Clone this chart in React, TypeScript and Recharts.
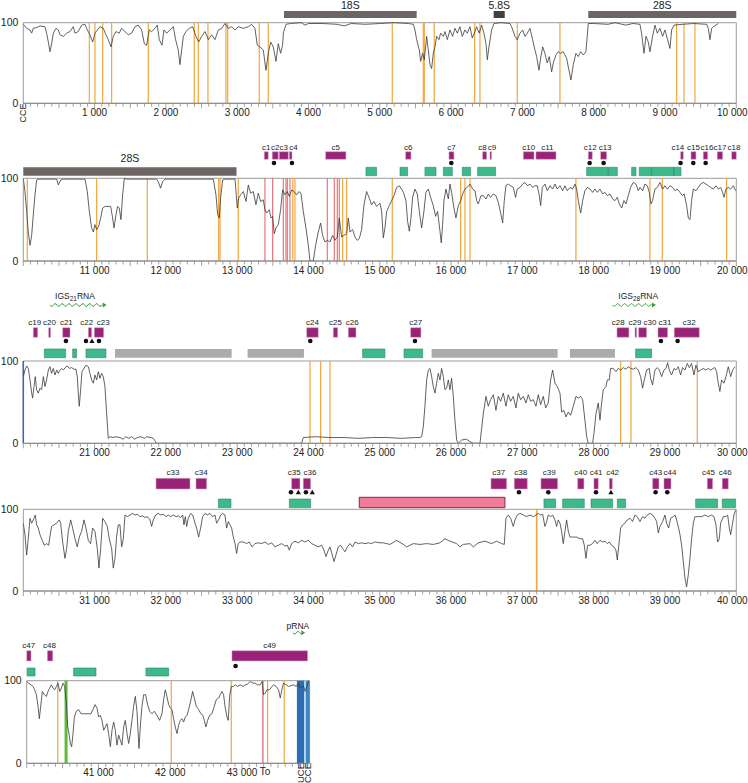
import React from 'react';
import {
    ComposedChart, Line, Scatter, XAxis, YAxis, ReferenceLine, ReferenceArea, ReferenceDot
} from 'recharts';

type Pt = [number, number];
type Feat = [string, number, number, number?];
type Mark = [number, 'd' | 't'];

// sequence conservation (%) along the unit, [position, value]
const cons1: Pt[] = [[0,98],[47,93],[94,91],[117,87],[140,93],[187,94],[234,96],[304,95],[327,87],[351,76],[374,64],[397,74],[421,87],[458,93],[491,91],[514,85],[561,83],[608,87],[655,89],[701,95],[725,87],[771,89],[818,97],[865,98],[898,91],[935,85],[972,76],[1005,87],[1038,91],[1075,95],[1122,93],[1159,85],[1192,79],[1230,70],[1262,83],[1300,89],[1346,87],[1379,93],[1426,89],[1473,85],[1519,87],[1566,95],[1613,97],[1660,91],[1697,74],[1730,72],[1767,91],[1800,89],[1847,93],[1879,97],[1907,79],[1945,72],[1973,91],[2010,87],[2057,91],[2104,95],[2136,79],[2174,66],[2197,48],[2221,66],[2244,83],[2281,89],[2328,93],[2375,95],[2422,83],[2459,76],[2501,83],[2548,89],[2595,79],[2641,85],[2688,79],[2735,91],[2782,93],[2828,99],[2875,93],[2922,95],[2969,91],[3015,95],[3086,93],[3156,95],[3202,98],[3249,93],[3282,72],[3319,70],[3366,66],[3403,41],[3436,62],[3469,76],[3506,70],[3544,52],[3576,74],[3609,62],[3637,72],[3647,87],[3684,98],[3750,99],[3900,100],[3950,97],[4000,99],[4200,99],[4400,98],[4500,96],[4600,99],[4800,98],[5000,99],[5200,100],[5400,99],[5470,98],[5493,91],[5517,79],[5554,66],[5573,52],[5601,62],[5624,54],[5657,83],[5680,66],[5704,48],[5727,43],[5750,62],[5774,70],[5797,83],[5830,79],[5853,87],[5891,83],[5914,89],[5947,79],[5984,91],[6021,83],[6054,93],[6087,87],[6124,95],[6157,83],[6194,91],[6227,87],[6265,95],[6297,81],[6335,89],[6358,95],[6395,87],[6428,97],[6461,87],[6489,74],[6508,54],[6531,70],[6568,91],[6601,99],[6700,100],[6826,99],[6849,95],[6896,83],[6928,79],[6966,87],[7003,91],[7036,83],[7069,87],[7106,93],[7143,79],[7176,66],[7200,58],[7232,41],[7256,56],[7284,70],[7316,62],[7349,50],[7377,58],[7410,39],[7433,50],[7471,60],[7503,64],[7536,62],[7573,64],[7620,56],[7653,41],[7681,29],[7714,48],[7751,62],[7784,58],[7817,64],[7854,60],[7891,64],[7924,99],[8000,99],[8200,98],[8300,100],[8450,97],[8550,99],[8649,98],[8672,87],[8705,62],[8733,83],[8766,76],[8789,64],[8826,83],[8859,97],[8892,87],[8929,93],[8967,83],[8999,91],[9037,79],[9070,68],[9093,91],[9126,97],[9250,98],[9400,99],[9584,98],[9607,93],[9631,79],[9654,93],[9677,95],[9747,99]];

const cons2: Pt[] = [[10000,100],[10023,84],[10047,60],[10070,35],[10094,19],[10117,31],[10140,56],[10164,80],[10187,98],[10210,99],[10468,99],[10491,92],[10524,98],[10561,99],[10865,99],[10898,84],[10926,60],[10958,40],[10982,35],[11005,44],[11029,38],[11057,42],[11085,52],[11113,64],[11145,66],[11192,66],[11225,66],[11253,52],[11272,40],[11300,56],[11323,66],[11346,64],[11370,50],[11393,80],[11417,100],[11449,99],[11870,99],[11893,96],[11926,88],[11954,96],[11987,99],[12665,99],[12702,80],[12726,56],[12749,52],[12767,76],[12796,98],[12828,99],[12969,99],[12983,84],[13001,64],[13020,76],[13048,80],[13086,84],[13123,72],[13156,92],[13188,82],[13226,84],[13263,68],[13296,82],[13329,72],[13366,74],[13389,62],[13413,58],[13450,62],[13474,52],[13497,54],[13520,33],[13544,40],[13576,44],[13609,62],[13637,86],[13670,80],[13703,84],[13731,78],[13763,86],[13796,84],[13834,80],[13866,84],[13894,82],[13927,60],[13964,40],[13997,19],[14021,0],[14067,0],[14100,19],[14137,35],[14170,46],[14198,31],[14231,23],[14264,25],[14301,23],[14338,31],[14371,25],[14404,29],[14432,52],[14465,29],[14497,31],[14535,33],[14558,52],[14582,35],[14619,38],[14652,29],[14684,25],[14712,27],[14745,38],[14778,68],[14815,84],[14853,76],[14885,68],[14918,72],[14956,66],[15002,70],[15026,60],[15049,28],[15072,40],[15096,60],[15133,67],[15166,73],[15199,79],[15236,89],[15273,91],[15306,87],[15330,83],[15367,73],[15390,48],[15414,36],[15437,52],[15460,77],[15493,87],[15526,81],[15554,60],[15587,40],[15619,60],[15647,83],[15680,87],[15713,77],[15750,67],[15783,54],[15811,60],[15844,36],[15862,22],[15881,44],[15900,73],[15928,87],[15961,75],[15984,93],[16007,83],[16040,64],[16068,52],[16101,67],[16134,73],[16162,81],[16194,87],[16227,89],[16265,93],[16302,87],[16335,85],[16358,73],[16381,69],[16419,79],[16452,79],[16489,75],[16522,81],[16554,77],[16592,81],[16629,79],[16662,71],[16695,58],[16723,46],[16746,73],[16769,91],[16802,93],[16835,91],[16872,89],[16905,77],[16928,87],[16966,89],[17003,93],[17036,95],[17069,91],[17106,93],[17143,89],[17176,91],[17209,91],[17237,79],[17256,67],[17279,89],[17316,93],[17349,85],[17387,91],[17424,87],[17457,93],[17489,87],[17527,91],[17564,85],[17597,91],[17630,85],[17667,89],[17704,87],[17737,93],[17761,87],[17784,73],[17817,58],[17845,73],[17877,85],[17910,89],[17948,87],[17985,83],[18018,87],[18050,83],[18088,87],[18125,81],[18158,83],[18191,79],[18228,81],[18265,75],[18298,73],[18331,77],[18359,69],[18392,64],[18424,73],[18452,69],[18485,79],[18518,89],[18555,95],[18593,93],[18625,85],[18649,89],[18686,85],[18719,93],[18752,91],[18780,83],[18803,69],[18826,73],[18859,87],[18892,89],[18929,95],[18967,87],[18999,91],[19032,87],[19070,91],[19107,89],[19140,85],[19172,87],[19210,83],[19242,79],[19270,81],[19303,67],[19327,52],[19350,50],[19373,73],[19397,87],[19434,85],[19467,89],[19500,93],[19537,95],[19574,93],[19607,91],[19640,89],[19677,87],[19715,91],[19747,87],[19780,89],[19808,83],[19827,77],[19855,87],[19888,89],[19921,87],[19958,91],[19990,85]];

const cons3: Pt[] = [[20000,81],[20023,89],[20047,94],[20070,91],[20094,77],[20117,61],[20131,55],[20150,69],[20168,81],[20187,65],[20210,61],[20234,67],[20257,65],[20281,81],[20304,69],[20327,77],[20351,89],[20374,93],[20397,85],[20421,91],[20444,83],[20468,89],[20491,85],[20514,89],[20538,91],[20561,89],[20589,92],[20617,94],[20645,91],[20678,92],[20711,90],[20739,90],[20757,81],[20771,61],[20785,45],[20804,65],[20823,87],[20851,91],[20879,95],[20912,93],[20935,85],[20958,77],[20982,73],[21005,83],[21029,77],[21052,87],[21075,79],[21099,85],[21122,81],[21145,69],[21169,36],[21192,6],[21216,8],[21260,7],[21300,8],[21356,7],[21400,5],[21440,8],[21480,6],[21520,8],[21560,5],[21600,7],[21650,8],[21700,6],[21730,8],[21790,7],[21823,6],[21847,3],[21870,0],[23903,0],[23927,7],[24100,8],[24300,7],[24500,7],[24700,6],[24900,7],[25100,7],[25300,6],[25500,7],[25563,7],[25587,8],[25610,20],[25633,45],[25657,77],[25680,89],[25704,91],[25727,81],[25750,69],[25774,61],[25797,73],[25820,85],[25844,77],[25867,91],[25891,81],[25914,65],[25937,67],[25961,77],[25984,65],[26007,79],[26031,57],[26054,28],[26078,4],[26101,0],[26148,4],[26218,5],[26265,2],[26311,0],[26405,0],[26452,36],[26489,57],[26522,45],[26554,53],[26592,59],[26629,40],[26662,57],[26695,51],[26732,61],[26769,45],[26802,59],[26835,51],[26872,57],[26910,43],[26942,61],[26975,53],[27013,57],[27050,49],[27083,59],[27115,51],[27153,53],[27190,45],[27223,59],[27256,47],[27293,57],[27326,43],[27363,49],[27396,77],[27424,89],[27457,73],[27489,69],[27527,61],[27550,38],[27583,40],[27611,32],[27644,38],[27676,34],[27714,45],[27751,57],[27784,55],[27817,57],[27845,53],[27877,28],[27901,8],[27924,0],[27985,0],[28004,12],[28032,36],[28064,49],[28088,28],[28111,49],[28134,65],[28172,69],[28191,77],[28219,77],[28237,91],[28275,91],[28312,87],[28345,91],[28378,89],[28415,92],[28452,90],[28485,93],[28518,91],[28555,90],[28593,92],[28625,89],[28658,81],[28686,67],[28710,77],[28742,89],[28780,91],[28798,79],[28826,71],[28859,89],[28892,92],[28920,89],[28953,81],[28985,89],[29013,91],[29037,98],[29060,89],[29093,83],[29126,91],[29154,89],[29186,93],[29219,83],[29247,92],[29280,89],[29313,97],[29341,92],[29373,97],[29406,83],[29434,95],[29467,87],[29500,89],[29537,91],[29574,89],[29607,91],[29640,89],[29677,91],[29700,92],[29724,87],[29747,73],[29770,63],[29794,77],[29827,73],[29855,81],[29888,93],[29921,81],[29949,89],[29981,93]];

const cons4: Pt[] = [[30000,83],[30023,69],[30047,44],[30070,64],[30094,89],[30117,83],[30140,87],[30168,93],[30187,81],[30210,77],[30234,69],[30266,62],[30295,56],[30327,58],[30355,56],[30374,67],[30397,79],[30430,81],[30468,83],[30505,87],[30524,83],[30552,60],[30584,40],[30608,52],[30631,73],[30664,87],[30692,77],[30725,64],[30757,54],[30785,66],[30818,73],[30851,87],[30879,77],[30912,62],[30944,58],[30972,77],[31005,73],[31038,52],[31061,28],[31085,52],[31113,89],[31145,85],[31178,79],[31206,64],[31239,52],[31262,28],[31286,40],[31309,67],[31332,81],[31356,81],[31379,54],[31403,64],[31426,93],[31459,91],[31496,93],[31533,95],[31566,93],[31599,94],[31636,91],[31674,92],[31706,90],[31739,91],[31777,87],[31800,79],[31823,87],[31856,93],[31893,95],[31926,93],[31963,94],[32001,91],[32034,93],[32066,91],[32104,93],[32141,91],[32174,92],[32207,90],[32235,93],[32253,81],[32272,91],[32291,79],[32314,89],[32347,95],[32375,93],[32408,83],[32431,77],[32459,66],[32487,77],[32515,91],[32548,95],[32581,93],[32618,95],[32655,91],[32688,93],[32712,83],[32740,87],[32768,93],[32796,95],[32828,93],[32852,77],[32876,85],[32899,81],[32922,77],[32946,66],[32969,58],[32992,46],[33015,58],[33039,60],[33086,60],[33132,58],[33170,60],[33207,54],[33249,58],[33296,59],[33343,58],[33389,60],[33436,57],[33483,59],[33530,54],[33576,56],[33623,58],[33670,55],[33703,56],[33731,50],[33763,58],[33810,61],[33857,59],[33904,62],[33950,60],[33997,62],[34044,58],[34091,56],[34137,54],[34184,56],[34217,50],[34245,42],[34278,50],[34301,54],[34324,47],[34357,36],[34385,44],[34418,54],[34451,56],[34479,52],[34512,48],[34544,54],[34582,58],[34619,54],[34652,60],[34698,58],[34745,59],[34792,58],[34839,59],[34885,58],[34932,60],[35002,59],[35049,59],[35143,57],[35236,62],[35330,57],[35376,54],[35470,58],[35563,57],[35657,58],[35750,57],[35844,59],[35914,64],[35984,61],[36078,58],[36124,54],[36171,57],[36265,58],[36311,54],[36381,59],[36475,61],[36568,58],[36639,61],[36709,58],[36746,57],[36769,89],[36802,93],[36835,89],[36872,79],[36896,87],[36928,93],[36966,95],[37013,93],[37059,91],[37106,93],[37153,91],[37190,93],[37223,95],[37256,93],[37284,94],[37316,79],[37340,85],[37363,93],[37396,91],[37424,93],[37457,87],[37480,79],[37503,87],[37527,83],[37550,73],[37573,58],[37597,73],[37620,87],[37644,73],[37667,66],[37714,66],[37761,66],[37807,64],[37845,64],[37868,56],[37891,40],[37915,56],[37948,56],[37985,58],[38018,62],[38050,58],[38088,62],[38125,60],[38158,61],[38191,58],[38219,60],[38251,56],[38284,54],[38312,50],[38331,38],[38350,54],[38378,77],[38406,81],[38438,83],[38471,87],[38509,89],[38546,85],[38579,93],[38611,91],[38649,85],[38686,91],[38719,89],[38752,93],[38789,95],[38826,93],[38859,89],[38883,85],[38906,71],[38929,79],[38967,85],[38999,93],[39023,83],[39051,77],[39079,89],[39116,91],[39140,93],[39163,87],[39186,79],[39210,69],[39233,56],[39257,36],[39280,16],[39303,5],[39327,20],[39350,40],[39373,64],[39397,83],[39420,91],[39467,91],[39514,91],[39560,93],[39607,91],[39654,93],[39687,91],[39715,81],[39738,60],[39762,64],[39780,83],[39818,91],[39855,91],[39879,93],[39902,77],[39921,69],[39944,81],[39967,93],[39990,99]];

const cons5: Pt[] = [[40000,99],[40028,97],[40060,95],[40088,93],[40111,89],[40135,83],[40158,69],[40176,54],[40195,69],[40218,87],[40246,83],[40274,81],[40297,87],[40320,91],[40343,95],[40367,91],[40390,89],[40413,93],[40436,97],[40459,87],[40483,91],[40506,97],[40529,93],[40552,73],[40571,44],[40589,36],[40608,24],[40626,20],[40645,36],[40664,56],[40691,63],[40724,65],[40756,60],[40793,60],[40831,60],[40863,60],[40896,60],[40923,65],[40951,71],[40979,67],[41002,56],[41025,58],[41049,52],[41072,40],[41095,44],[41118,48],[41141,36],[41165,20],[41188,40],[41211,50],[41234,40],[41257,22],[41281,34],[41304,28],[41327,22],[41350,44],[41373,52],[41397,36],[41420,24],[41443,36],[41466,52],[41489,69],[41513,81],[41536,63],[41550,40],[41564,18],[41582,44],[41605,69],[41629,83],[41656,83],[41684,71],[41712,63],[41745,60],[41777,63],[41814,58],[41851,52],[41884,60],[41907,77],[41930,89],[41953,81],[41977,71],[42000,67],[42023,65],[42046,54],[42069,44],[42093,36],[42116,46],[42139,52],[42162,54],[42185,50],[42209,56],[42232,58],[42255,65],[42288,77],[42311,87],[42334,79],[42362,69],[42394,65],[42427,60],[42455,58],[42473,52],[42496,44],[42520,52],[42547,58],[42580,60],[42612,69],[42640,77],[42673,79],[42696,83],[42719,87],[42742,83],[42765,67],[42789,56],[42807,52],[42826,81],[42849,93],[42881,93],[42905,95],[42937,93],[42974,95],[43011,93],[43044,95],[43076,96],[43113,99],[43151,97],[43183,97],[43216,95],[43253,95],[43280,99],[43299,83],[43322,85],[43345,89],[43383,89],[43415,93],[43438,95],[43475,93],[43508,89],[43531,79],[43554,89],[43577,97],[43615,95],[43647,93],[43680,94],[43717,95],[43754,93],[43786,97],[43809,91],[43833,93],[43856,93],[43879,87],[43902,93],[43925,99]];

// site positions (vertical lines)
const orange1 = [926, 1005, 1113, 1239, 1753, 2398, 2454, 2590, 2842, 2866, 3310, 3436, 5175, 5610, 5624, 5764, 6330, 6405, 6928, 7527, 9163, 9266, 9420];
const orange2 = [10056, 11029, 11739, 12740, 12759, 13015, 13780, 13810, 14479, 14535, 15175, 16134, 16194, 16265, 17751, 18789, 18962, 19864];
const red2 = [13389, 13497, 13647, 13684, 13703, 13740, 14264, 14362, 14404, 14432];
const orange3 = [24021, 24170, 24301, 28378, 28523, 29453];
const orange4 = [37200];
const orange5 = [40432, 42014, 42849, 43355, 43587];
const red5 = [43290];
const green5 = [40548];

// rRNA genes
const rrna1: Feat[] = [['18S', 3656, 5517], ['5.8S', 6597, 6752], ['28S', 7924, 10000]];
const rrna2: Feat[] = [['28S', 10000, 12990]];

// conserved elements [name, start, end, label position]
const purple2: Feat[] = [['c1', 13380, 13436], ['c2', 13492, 13576], ['c3', 13590, 13717], ['c4', 13731, 13768, 13790], ['c5', 14240, 14525], ['c6', 15362, 15437], ['c7', 15970, 16040], ['c8', 16442, 16498, 16440], ['c9', 16545, 16568, 16575], ['c10', 17013, 17163], ['c11', 17190, 17471, 17350], ['c12', 17924, 17980], ['c13', 18097, 18181, 18160], ['c14', 19219, 19257, 19180], ['c15', 19364, 19434], ['c16', 19537, 19598, 19590], ['c17', 19733, 19808], ['c18', 19935, 20000, 19967]];
const purple3: Feat[] = [['c19', 20140, 20201, 20160], ['c20', 20355, 20383, 20368], ['c21', 20552, 20655], ['c22', 20912, 20958, 20890], ['c23', 20996, 21127, 21120], ['c24', 23974, 24137], ['c25', 24348, 24409], ['c26', 24558, 24666], ['c27', 25432, 25577], ['c28', 28326, 28494, 28345], ['c29', 28579, 28602, 28580], ['c30', 28630, 28742, 28790], ['c31', 28901, 29037, 29000], ['c32', 29130, 29481, 29340]];
const purple4: Feat[] = [['c33', 31861, 32338], ['c34', 32422, 32571], ['c35', 33763, 33880, 33800], ['c36', 33927, 34030, 34020], ['c37', 36559, 36779], ['c38', 36886, 37069], ['c39', 37260, 37494], ['c40', 37775, 37863], ['c41', 38003, 38064], ['c42', 38219, 38261, 38265], ['c43', 38826, 38915], ['c44', 38985, 39084, 39070], ['c45', 39593, 39668, 39610], ['c46', 39803, 39888]];
const purple5: Feat[] = [['c47', 40000, 40060, 40028], ['c48', 40288, 40362, 40316], ['c49', 42858, 43912, 43383]];

// other conserved blocks
const green2: Pt[] = [[14806, 14955], [15283, 15390], [15633, 15788], [15891, 16017], [16157, 16274], [16372, 16624], [17901, 18205], [18205, 18331], [18532, 18593], [18639, 18812], [18812, 19126], [19126, 19224]];
const green3: Pt[] = [[20295, 20594], [20692, 20748], [20879, 21159], [24759, 25072], [25339, 25601], [28588, 28812]];
const gray3: Pt[] = [[21286, 22922], [23146, 23936], [25727, 27494], [27667, 28298]];
const green4: Pt[] = [[32735, 32913], [33731, 34030], [37302, 37466], [37564, 37868], [37962, 38265], [38331, 38448], [39430, 39738], [39803, 39990]];
const pink4: Pt[] = [[34712, 36755]];
const green5b: Pt[] = [[40005, 40116], [40654, 40965], [41661, 41977]];

// markers under elements: d = dot, t = triangle
const marks2: Mark[] = [[13516, 'd'], [13768, 'd'], [16003, 'd'], [17943, 'd'], [18139, 'd'], [19219, 'd'], [19397, 'd'], [19570, 'd']];
const marks3: Mark[] = [[20598, 'd'], [20879, 'd'], [20963, 't'], [21061, 'd'], [24025, 'd'], [25493, 'd'], [28943, 'd'], [29177, 'd']];
const marks4: Mark[] = [[33754, 'd'], [33857, 't'], [33964, 'd'], [34053, 't'], [36952, 'd'], [37363, 'd'], [38032, 'd'], [38242, 't'], [38868, 'd'], [39032, 'd']];
const marks5: Mark[] = [[42909, 'd']];

// transcripts [name, start, end, label position]
const rna3: Feat[] = [['21', 20374, 21169, 20725], ['28', 28265, 28873, 28625]];
const rna5: Feat[] = [['pRNA', 43707, 43879, 43777]];

const FONT = '"Liberation Sans", Arial, Helvetica, sans-serif';
const ORANGE = '#F1A63C';
const RED = '#E8767A';
const PURPLE = '#982377';
const GREEN = '#3DB98C';
const GREEN_LINE = '#2A8A62';
const BAR = '#6D6564';

interface Layout { top: number; y0: number; y100: number; left: number; right: number; domain: [number, number]; axisH: number; }

const L1: Layout = { top: 0, y0: 103.3, y100: 22.7, left: 23.3, right: 736.3, domain: [0, 10000], axisH: 22 };
const L2: Layout = { top: 138, y0: 261, y100: 178.3, left: 23.3, right: 736.3, domain: [10000, 20000], axisH: 22 };
const L3: Layout = { top: 285, y0: 443.3, y100: 361, left: 23.3, right: 736.3, domain: [20000, 30000], axisH: 22 };
const L4: Layout = { top: 462, y0: 591, y100: 509.3, left: 23.3, right: 736.3, domain: [30000, 40000], axisH: 22 };
const L5: Layout = { top: 619, y0: 763.3, y100: 680.7, left: 26.7, right: 309.6, domain: [40000, 43940], axisH: 20 };

// page y -> value on a panel's y scale
const yv = (l: Layout, pageY: number) => (l.y0 - pageY) * 100 / (l.y0 - l.y100);

const vlines = (xs: number[], color: string, w = 1.2) => xs.map((x, i) => (
    <ReferenceLine key={`v${color}${i}`} segment={[{ x, y: 0 }, { x, y: 100 }]} stroke={color} strokeWidth={w} ifOverflow="visible" />
));

const boxes = (l: Layout, items: (Pt | Feat)[], top: number, bottom: number, fill: string, stroke: string, sw = 0.6) => items.map((f, i) => {
    const x1 = typeof f[0] === 'string' ? f[1] as number : f[0] as number;
    const x2 = typeof f[0] === 'string' ? f[2] as number : f[1] as number;
    return (
        <ReferenceArea key={`b${fill}${i}`} x1={x1} x2={x2} y1={yv(l, bottom)} y2={yv(l, top)}
            fill={fill} fillOpacity={1} stroke={stroke} strokeWidth={sw} ifOverflow="visible" />
    );
});

const textAt = (key: string, x: number, y: number, text: string, size: number, angle = 0) => (
    <ReferenceDot key={key} x={x} y={y} r={0} ifOverflow="visible"
        shape={(p: any) => (
            <text x={p.cx} y={p.cy} dy="0.35em" textAnchor="middle" fontSize={size} fill="#222"
                transform={angle ? `rotate(${angle} ${p.cx} ${p.cy})` : undefined}>{text}</text>
        )} />
);

const labels = (l: Layout, items: Feat[], pageY: number, size = 8) =>
    items.map((f, i) => textAt(`l${f[0]}${i}`, f[3] ?? (f[1] + f[2]) / 2, yv(l, pageY), f[0], size));

const Marker = (p: any) => {
    const { cx, cy, payload } = p;
    if (payload.k === 't') {
        return <polygon points={`${cx},${cy - 2.6} ${cx - 2.6},${cy + 2} ${cx + 2.6},${cy + 2}`} fill="#111" />;
    }
    return <circle cx={cx} cy={cy} r={2.3} fill="#111" />;
};

const WaveArrow = (p: any) => {
    const { x, y, width, height } = p;
    const cy = y + height / 2;
    const end = x + width - 4;
    let d = `M${x},${cy}`;
    for (let t = x; t <= end; t += 1) d += ` L${t},${cy + 1.4 * Math.sin((t - x) / 1.1)}`;
    return (
        <g>
            <path d={d} fill="none" stroke="#3E9C45" strokeWidth={1} />
            <polygon points={`${end},${cy - 2.5} ${x + width},${cy} ${end},${cy + 2.5}`} fill="#3E9C45" />
        </g>
    );
};

const renderTick = (l: Layout) => (p: any) => {
    const v = p.payload.value as number;
    const len = v % 500 === 0 ? 5 : 3.5;
    const last = v === l.domain[1];
    return (
        <g>
            <line x1={p.x} y1={p.y} x2={p.x} y2={p.y + len} stroke="#8a8a8a" strokeWidth={0.8} />
            {v % 1000 === 0 && v > l.domain[0] && (
                <text x={last ? p.x - 4 : p.x} y={p.y + 13} textAnchor="middle" fontSize={10} fill="#222">{`${v / 1000} 000`}</text>
            )}
        </g>
    );
};

const Panel = ({ l, line, children }: { l: Layout; line: Pt[]; children: React.ReactNode }) => {
    const plotH = l.y0 - l.top;
    const ymax = plotH * 100 / (l.y0 - l.y100);
    const ticks: number[] = [];
    for (let v = l.domain[0]; v <= l.domain[1]; v += 100) ticks.push(v);
    return (
        <div style={{ position: 'absolute', left: 0, top: l.top }}>
            <ComposedChart width={748} height={plotH + l.axisH} margin={{ top: 0, right: 748 - l.right, bottom: 0, left: 0 }}>
                <XAxis dataKey="x" type="number" domain={l.domain} allowDataOverflow ticks={ticks} interval={0}
                    height={l.axisH} tickSize={0} tickMargin={0} tickLine={false} tick={renderTick(l)}
                    axisLine={{ stroke: '#8a8a8a' }} />
                <YAxis type="number" domain={[0, ymax]} allowDataOverflow ticks={[0, 100]} interval={0}
                    width={l.left} tickSize={0} tickMargin={5} axisLine={false} tickLine={false}
                    tick={{ fontSize: 10.5, fill: '#222' }} />
                <ReferenceArea x1={l.domain[0]} x2={l.domain[1]} y1={0} y2={100} fill="none" stroke="#9c9c9c" strokeWidth={1} ifOverflow="visible" />
                {children}
                <Line data={line.map(([x, v]) => ({ x, v }))} dataKey="v" type="linear" stroke="#3a3a3a"
                    strokeWidth={0.8} dot={false} isAnimationActive={false} />
            </ComposedChart>
        </div>
    );
};

const markerSeries = (l: Layout, marks: Mark[], pageY: number) => (
    <Scatter key="marks" data={marks.map(([x, k]) => ({ x, y: yv(l, pageY), k }))} dataKey="y"
        shape={Marker} isAnimationActive={false} />
);

const App = () => (
    <div style={{ position: 'absolute', left: 0, top: 0, width: 748, height: 783, background: '#fff', fontFamily: FONT }}>
        <Panel l={L1} line={cons1}>
            {vlines(orange1, ORANGE)}
            {boxes(L1, rrna1.slice(0, 1), 11, 18, BAR, 'none')}
            {boxes(L1, rrna1.slice(1, 2), 11, 18, '#444040', 'none')}
            {boxes(L1, rrna1.slice(2), 11, 18, BAR, 'none')}
            {labels(L1, rrna1, 5.5, 10.5)}
            {textAt('cce1', 0, yv(L1, 113), 'CCE', 9, -90)}
        </Panel>

        <Panel l={L2} line={cons2}>
            {vlines(orange2, ORANGE)}
            {vlines(red2, RED)}
            {boxes(L2, rrna2, 167.3, 175.7, BAR, 'none')}
            {labels(L2, rrna2, 158, 10.5)}
            {boxes(L2, green2, 167.3, 175.7, GREEN, GREEN_LINE)}
            {boxes(L2, purple2, 151.7, 159.3, PURPLE, '#d9a9cb', 0.5)}
            {labels(L2, purple2, 146.7)}
            {markerSeries(L2, marks2, 163)}
        </Panel>

        <Panel l={L3} line={cons3}>
            <ReferenceLine segment={[{ x: 20000, y: 0 }, { x: 20000, y: 100 }]} stroke="#2c6fb3" strokeWidth={1.5} ifOverflow="visible" />
            {vlines(orange3, ORANGE)}
            {boxes(L3, gray3, 349, 357.7, '#ABABAB', 'none')}
            {boxes(L3, green3, 349, 357.7, GREEN, GREEN_LINE)}
            {boxes(L3, purple3, 327.7, 337.3, PURPLE, '#d9a9cb', 0.5)}
            {labels(L3, purple3, 322)}
            {markerSeries(L3, marks3, 341)}
            {rna3.map((f, i) => (
                <ReferenceArea key={`w${i}`} x1={f[1]} x2={f[2]} y1={yv(L3, 308)} y2={yv(L3, 302)} ifOverflow="visible" shape={WaveArrow} />
            ))}
            {rna3.map((f, i) => (
                <ReferenceDot key={`n${i}`} x={f[3] as number} y={yv(L3, 295.7)} r={0} ifOverflow="visible"
                    shape={(p: any) => (
                        <text x={p.cx} y={p.cy} dy="0.35em" textAnchor="middle" fontSize={8.5} fill="#222">
                            IGS<tspan fontSize={6.5} dy={2.5}>{f[0]}</tspan><tspan dy={-2.5}>RNA</tspan>
                        </text>
                    )} />
            ))}
        </Panel>

        <Panel l={L4} line={cons4}>
            {vlines(orange4, ORANGE, 1.6)}
            {boxes(L4, pink4, 497.3, 507.7, '#F27B9C', '#74303F', 1)}
            {boxes(L4, green4, 499, 507.7, GREEN, GREEN_LINE)}
            {boxes(L4, purple4, 478.3, 489, PURPLE, '#d9a9cb', 0.5)}
            {labels(L4, purple4, 472.3)}
            {markerSeries(L4, marks4, 492.3)}
        </Panel>

        <Panel l={L5} line={cons5}>
            <ReferenceArea x1={43763} x2={43865} y1={0} y2={100} fill="#2C6DB2" fillOpacity={1} ifOverflow="visible" />
            <ReferenceArea x1={43865} x2={43890} y1={0} y2={100} fill="#A8D3F0" fillOpacity={1} ifOverflow="visible" />
            <ReferenceArea x1={43890} x2={43940} y1={0} y2={100} fill="#3D87C7" fillOpacity={1} ifOverflow="visible" />
            {vlines(orange5, ORANGE)}
            {vlines(red5, RED, 1.4)}
            {vlines(green5, '#5DBB3A', 3)}
            {boxes(L5, green5b, 668, 676, GREEN, GREEN_LINE)}
            {boxes(L5, purple5, 650.7, 661, PURPLE, '#d9a9cb', 0.5)}
            {labels(L5, purple5, 645)}
            {markerSeries(L5, marks5, 666)}
            {rna5.map((f, i) => (
                <ReferenceArea key={`w5${i}`} x1={f[1]} x2={f[2]} y1={yv(L5, 635.5)} y2={yv(L5, 630)} ifOverflow="visible" shape={WaveArrow} />
            ))}
            {labels(L5, rna5, 626, 8.5)}
            {textAt('to', 43320, yv(L5, 771.5), 'To', 10)}
            {textAt('uce', 43810, yv(L5, 773), 'UCE', 9.5, -90)}
            {textAt('cce5', 43915, yv(L5, 773), 'CCE', 9.5, -90)}
        </Panel>
    </div>
);

export default App;
